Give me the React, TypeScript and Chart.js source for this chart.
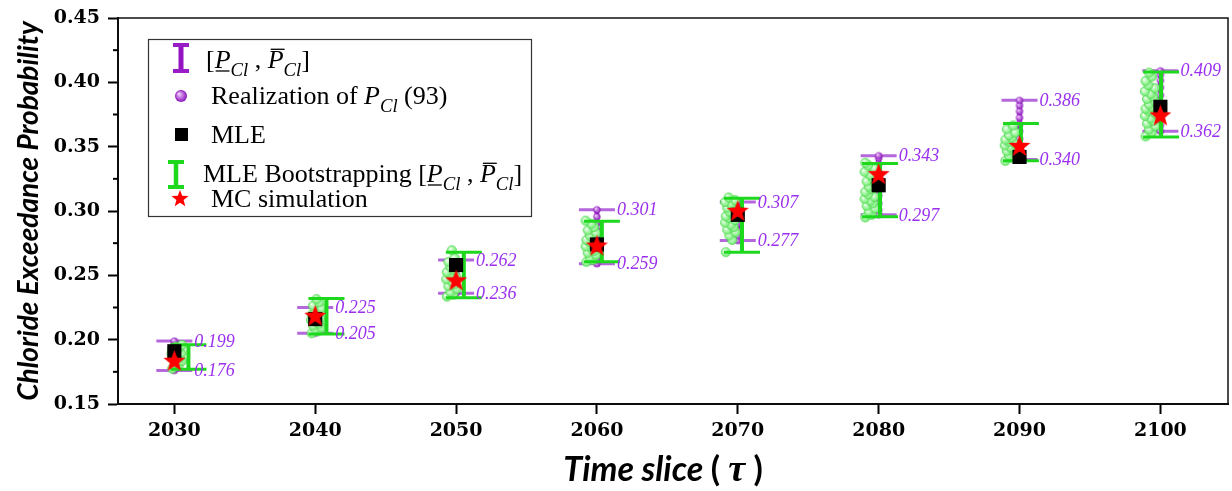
import React, { useEffect, useRef } from "react";
import { Chart, registerables } from "chart.js";
Chart.register(...registerables);

// ---------------- data ----------------
const YEARS = [2030, 2040, 2050, 2060, 2070, 2080, 2090, 2100];
const P_LOWER = [0.176, 0.205, 0.236, 0.259, 0.277, 0.297, 0.34, 0.362];
const P_UPPER = [0.199, 0.225, 0.262, 0.301, 0.307, 0.343, 0.386, 0.409];
const BOOT_LOWER = [0.177, 0.2045, 0.2325, 0.2605, 0.268, 0.2955, 0.339, 0.3575];
const BOOT_UPPER = [0.196, 0.232, 0.268, 0.292, 0.31, 0.337, 0.368, 0.408];
const BOOT_X = [2031.0, 2040.8, 2050.55, 2060.35, 2070.3, 2080.1, 2090.1, 2100.05];
const BOOT_CLOUD_X = [2030.2, 2040.1, 2049.7, 2059.6, 2069.5, 2079.4, 2089.35, 2099.3];
const MLE = [0.191, 0.216, 0.258, 0.274, 0.297, 0.32, 0.342, 0.381];
const MC = [0.184, 0.219, 0.2465, 0.2735, 0.3005, 0.329, 0.351, 0.3747];

const REAL_2030 = [0.176, 0.178, 0.1825, 0.187, 0.191, 0.1945, 0.197, 0.199];
const REAL_2040 = [0.205, 0.207, 0.2105, 0.214, 0.218, 0.2215, 0.225];
const REAL_2050 = [0.236, 0.2385, 0.242, 0.2465, 0.251, 0.2555, 0.259, 0.262];
const REAL_2060 = [0.259, 0.262, 0.267, 0.273, 0.279, 0.285, 0.2905, 0.2955, 0.301];
const REAL_2070 = [0.277, 0.2805, 0.285, 0.29, 0.2945, 0.299, 0.303, 0.307];
const REAL_2080 = [0.297, 0.3005, 0.306, 0.312, 0.318, 0.324, 0.33, 0.3365, 0.341, 0.343];
const REAL_2090 = [0.34, 0.3445, 0.35, 0.356, 0.362, 0.3675, 0.3725, 0.3775, 0.382, 0.386];
const REAL_2100 = [0.362, 0.3665, 0.372, 0.378, 0.384, 0.39, 0.396, 0.4015, 0.406, 0.409];
const REALIZATIONS = [REAL_2030, REAL_2040, REAL_2050, REAL_2060, REAL_2070, REAL_2080, REAL_2090, REAL_2100];

const BOOT_2030 = [0.1775, 0.18, 0.1815, 0.1835, 0.185, 0.186, 0.1875, 0.189, 0.1895, 0.1905, 0.192, 0.193, 0.1945, 0.196];
const BOOT_2040 = [0.205, 0.2065, 0.208, 0.2095, 0.211, 0.2125, 0.214, 0.215, 0.2165, 0.218, 0.2195, 0.221, 0.2225, 0.2245, 0.2265, 0.229, 0.2315];
const BOOT_2050 = [0.2335, 0.235, 0.237, 0.2395, 0.2415, 0.243, 0.245, 0.247, 0.249, 0.2505, 0.2525, 0.2545, 0.2565, 0.2585, 0.2605, 0.2635, 0.2695];
const BOOT_2060 = [0.2605, 0.262, 0.264, 0.266, 0.2675, 0.269, 0.271, 0.2725, 0.274, 0.276, 0.2775, 0.279, 0.281, 0.283, 0.285, 0.2875, 0.29, 0.2925];
const BOOT_2070 = [0.268, 0.2775, 0.281, 0.2835, 0.2855, 0.2875, 0.2895, 0.291, 0.293, 0.2945, 0.296, 0.298, 0.2995, 0.301, 0.3025, 0.304, 0.3055, 0.307, 0.3085, 0.3105];
const BOOT_2080 = [0.295, 0.297, 0.2995, 0.302, 0.304, 0.306, 0.308, 0.3095, 0.311, 0.313, 0.315, 0.317, 0.319, 0.321, 0.323, 0.3255, 0.328, 0.3305, 0.333, 0.3355, 0.3375];
const BOOT_2090 = [0.339, 0.3415, 0.343, 0.345, 0.3465, 0.348, 0.3495, 0.351, 0.3525, 0.354, 0.3555, 0.357, 0.359, 0.361, 0.3635, 0.3665];
const BOOT_2100 = [0.358, 0.361, 0.3635, 0.366, 0.368, 0.37, 0.372, 0.374, 0.376, 0.378, 0.3795, 0.381, 0.383, 0.385, 0.387, 0.389, 0.391, 0.393, 0.3955, 0.398, 0.401, 0.4045, 0.4075];
const BOOTSTRAP = [BOOT_2030, BOOT_2040, BOOT_2050, BOOT_2060, BOOT_2070, BOOT_2080, BOOT_2090, BOOT_2100];

const X_TICKS = [2030, 2040, 2050, 2060, 2070, 2080, 2090, 2100];
const Y_TICKS = [0.15, 0.2, 0.25, 0.3, 0.35, 0.4, 0.45];
const Y_MINOR = [0.175, 0.225, 0.275, 0.325, 0.375, 0.425];

// ---------------- styles ----------------
const JITTER = [-0.35, 0.1, -0.1, 0.35, -0.25, 0.2, 0, -0.4, 0.3, -0.15];
const PURPLE_V = "#9414c4";
const PURPLE_CAP = "rgba(172,88,216,0.9)";
const GREEN = "#1ed81e";
const LABEL_COLOR = "#9b30ef";
const SERIF = '"Liberation Serif", "Times New Roman", serif';
const SANS_BI = 'Lato, "Open Sans", sans-serif';

function makeSphere(r: number, inner: string, outer: string, edge?: string) {
  const c = document.createElement("canvas");
  const s = Math.ceil(r * 2 + 2);
  c.width = s;
  c.height = s;
  const g = c.getContext("2d")!;
  const cx = s / 2, cy = s / 2;
  const grad = g.createRadialGradient(cx - r * 0.35, cy - r * 0.35, r * 0.1, cx, cy, r);
  grad.addColorStop(0, inner);
  grad.addColorStop(1, outer);
  g.fillStyle = grad;
  g.beginPath();
  g.arc(cx, cy, r, 0, Math.PI * 2);
  g.fill();
  if (edge) {
    g.strokeStyle = edge;
    g.lineWidth = 0.8;
    g.stroke();
  }
  return c;
}

function starPath(ctx: CanvasRenderingContext2D, cx: number, cy: number, R: number) {
  const r = R * 0.42;
  ctx.beginPath();
  for (let i = 0; i < 10; i++) {
    const a = -Math.PI / 2 + (i * Math.PI) / 5;
    const rr = i % 2 === 0 ? R : r;
    const px = cx + rr * Math.cos(a), py = cy + rr * Math.sin(a);
    if (i === 0) ctx.moveTo(px, py);
    else ctx.lineTo(px, py);
  }
  ctx.closePath();
}

function makeStar(R: number, color: string) {
  const c = document.createElement("canvas");
  const s = Math.ceil(R * 2 + 2);
  c.width = s;
  c.height = s;
  const g = c.getContext("2d")!;
  starPath(g, s / 2, s / 2 + R * 0.1, R);
  g.fillStyle = color;
  g.fill();
  return c;
}

type Run = { t: string; italic?: boolean; sub?: boolean; under?: boolean; over?: boolean };

function drawRuns(ctx: CanvasRenderingContext2D, x: number, y: number, runs: Run[], size: number) {
  ctx.textBaseline = "alphabetic";
  ctx.textAlign = "left";
  ctx.fillStyle = "#000";
  ctx.strokeStyle = "#000";
  for (const r of runs) {
    const fs = r.sub ? size * 0.72 : size;
    ctx.font = `${r.italic ? "italic " : ""}${fs}px ${SERIF}`;
    const dy = r.sub ? size * 0.3 : 0;
    ctx.fillText(r.t, x, y + dy);
    const w = ctx.measureText(r.t).width;
    ctx.lineWidth = 1.3;
    if (r.under) {
      ctx.beginPath();
      ctx.moveTo(x + 1, y + 3);
      ctx.lineTo(x + w - 1, y + 3);
      ctx.stroke();
    }
    if (r.over) {
      ctx.beginPath();
      ctx.moveTo(x + 3, y - size * 0.72);
      ctx.lineTo(x + w + 1, y - size * 0.72);
      ctx.stroke();
    }
    x += w;
  }
}

function drawIBeam(ctx: CanvasRenderingContext2D, x: number, y1: number, y2: number, half: number, vColor: string, vW: number, cColor: string, cW: number) {
  ctx.save();
  ctx.lineCap = "butt";
  ctx.strokeStyle = vColor;
  ctx.lineWidth = vW;
  ctx.beginPath();
  ctx.moveTo(x, y1);
  ctx.lineTo(x, y2);
  ctx.stroke();
  ctx.strokeStyle = cColor;
  ctx.lineWidth = cW;
  ctx.beginPath();
  ctx.moveTo(x - half, y1);
  ctx.lineTo(x + half, y1);
  ctx.moveTo(x - half, y2);
  ctx.lineTo(x + half, y2);
  ctx.stroke();
  ctx.restore();
}

export default function App() {
  const ref = useRef<HTMLCanvasElement>(null);

  useEffect(() => {
    const canvas = ref.current!;
    const purpleImg = makeSphere(3.6, "#f0c8ff", "#8a12b8");
    const greenImg = makeSphere(4.6, "#f0fff0", "#6bec6b", "rgba(70,210,70,0.75)");
    const starImg = makeStar(11.5, "#ff0000");
    const legendSphere = makeSphere(6, "#f0c8ff", "#8a12b8");
    const legendStar = makeStar(9, "#ff0000");

    const realData: { x: number; y: number }[] = [];
    REALIZATIONS.forEach((arr, i) => arr.forEach((v) => realData.push({ x: YEARS[i], y: v })));
    const bootData: { x: number; y: number }[] = [];
    BOOTSTRAP.forEach((arr, i) =>
      arr.forEach((v, j) => bootData.push({ x: BOOT_CLOUD_X[i] + JITTER[j % JITTER.length], y: v }))
    );

    const overlay = {
      id: "overlay",
      beforeDatasetsDraw(chart: any) {
        const { ctx, scales } = chart;
        const xs = scales.x, ys = scales.y;
        YEARS.forEach((yr, i) => {
          drawIBeam(ctx, xs.getPixelForValue(yr), ys.getPixelForValue(P_UPPER[i]), ys.getPixelForValue(P_LOWER[i]), 18, PURPLE_V, 4.5, PURPLE_CAP, 3);
        });
      },
      afterDatasetDraw(chart: any, args: any) {
        if (args.meta && args.meta.label === "boot") {
          const { ctx, scales } = chart;
          const xs = scales.x, ys = scales.y;
          YEARS.forEach((yr, i) => {
            drawIBeam(ctx, xs.getPixelForValue(BOOT_X[i]), ys.getPixelForValue(BOOT_UPPER[i]), ys.getPixelForValue(BOOT_LOWER[i]), 18, GREEN, 4, GREEN, 3);
          });
        }
      },
      afterDatasetsDraw(chart: any) {
        const { ctx, scales } = chart;
        const xs = scales.x, ys = scales.y;
        ctx.save();
        ctx.font = `italic 18px ${SERIF}`;
        ctx.fillStyle = LABEL_COLOR;
        ctx.textAlign = "left";
        ctx.textBaseline = "middle";
        YEARS.forEach((yr, i) => {
          const px = xs.getPixelForValue(yr) + 20;
          ctx.fillText(P_UPPER[i].toFixed(3), px, ys.getPixelForValue(P_UPPER[i]) + 1);
          ctx.fillText(P_LOWER[i].toFixed(3), px, ys.getPixelForValue(P_LOWER[i]) + 1);
        });
        ctx.restore();
      },
      afterDraw(chart: any) {
        const { ctx, chartArea, scales } = chart;
        const ys = scales.y;
        ctx.save();
        // box
        ctx.strokeStyle = "#111";
        ctx.lineWidth = 1.5;
        ctx.strokeRect(chartArea.left, chartArea.top, chartArea.right - chartArea.left, chartArea.bottom - chartArea.top);
        // minor ticks
        ctx.lineWidth = 2;
        ctx.strokeStyle = "#000";
        Y_MINOR.forEach((v) => {
          const py = ys.getPixelForValue(v);
          ctx.beginPath();
          ctx.moveTo(chartArea.left - 5, py);
          ctx.lineTo(chartArea.left, py);
          ctx.stroke();
        });
        // y title
        ctx.save();
        ctx.translate(29, 211);
        ctx.rotate(-Math.PI / 2);
        ctx.font = `italic bold 28px ${SANS_BI}`;
        ctx.fillStyle = "#000";
        ctx.textAlign = "center";
        ctx.textBaseline = "middle";
        ctx.fillText("Chloride Exceedance Probability", 0, 0);
        ctx.restore();
        // x title
        {
          const parts = [
            { t: "Time slice ", f: `italic bold 34px ${SANS_BI}` },
            { t: "( ", f: `bold 34px ${SANS_BI}` },
            { t: "τ", f: `italic bold 38px ${SERIF}` },
            { t: " )", f: `bold 34px ${SANS_BI}` },
          ];
          let total = 0;
          parts.forEach((p) => {
            ctx.font = p.f;
            total += ctx.measureText(p.t).width;
          });
          let x = 663 - total / 2;
          ctx.fillStyle = "#000";
          ctx.textAlign = "left";
          ctx.textBaseline = "alphabetic";
          parts.forEach((p) => {
            ctx.font = p.f;
            ctx.fillText(p.t, x, 481);
            x += ctx.measureText(p.t).width;
          });
        }
        // legend
        ctx.fillStyle = "#fff";
        ctx.fillRect(148, 39, 383, 177);
        ctx.strokeStyle = "#333";
        ctx.lineWidth = 1.2;
        ctx.strokeRect(148.5, 39.5, 383, 177);
        drawIBeam(ctx, 181, 45, 71, 8, PURPLE_V, 5, "#9a1cc6", 4);
        ctx.drawImage(legendSphere, 181 - legendSphere.width / 2, 96 - legendSphere.height / 2);
        ctx.fillStyle = "#000";
        ctx.fillRect(175, 128, 13, 13);
        drawIBeam(ctx, 176, 162, 187, 8, GREEN, 4.5, GREEN, 4);
        ctx.drawImage(legendStar, 180 - legendStar.width / 2, 198 - legendStar.height / 2);
        const S = 26;
        drawRuns(ctx, 206, 68, [
          { t: "[" },
          { t: "P", italic: true, under: true },
          { t: "Cl", italic: true, sub: true },
          { t: " , " },
          { t: "P", italic: true, over: true },
          { t: "Cl", italic: true, sub: true },
          { t: "]" },
        ], S);
        drawRuns(ctx, 211, 104, [
          { t: "Realization of " },
          { t: "P", italic: true },
          { t: "Cl", italic: true, sub: true },
          { t: " (93)" },
        ], S);
        drawRuns(ctx, 211, 143, [{ t: "MLE" }], S);
        drawRuns(ctx, 203, 182, [
          { t: "MLE Bootstrapping [" },
          { t: "P", italic: true, under: true },
          { t: "Cl", italic: true, sub: true },
          { t: " , " },
          { t: "P", italic: true, over: true },
          { t: "Cl", italic: true, sub: true },
          { t: "]" },
        ], S);
        drawRuns(ctx, 211, 207, [{ t: "MC simulation" }], S);
        ctx.restore();
      },
    };

    const tickFont = { family: '"DejaVu Serif", serif', weight: "bold" as const, size: 19 };

    const chart = new Chart(canvas, {
      type: "scatter",
      data: {
        datasets: [
          { label: "MC", data: YEARS.map((x, i) => ({ x, y: MC[i] })), pointStyle: starImg as any, pointRadius: 6, order: 0 },
          { label: "MLE", data: YEARS.map((x, i) => ({ x, y: MLE[i] })), pointStyle: "rect", pointRadius: 10, backgroundColor: "#000", borderColor: "#000", borderWidth: 0, order: 1 },
          { label: "boot", data: bootData, pointStyle: greenImg as any, pointRadius: 4, order: 2 },
          { label: "real", data: realData, pointStyle: purpleImg as any, pointRadius: 3, order: 3 },
        ],
      },
      options: {
        responsive: false,
        animation: false,
        events: [],
        layout: { autoPadding: false, padding: { top: 18, right: 4, left: 0, bottom: 0 } },
        plugins: { legend: { display: false }, tooltip: { enabled: false } },
        scales: {
          x: {
            type: "linear",
            min: 2026,
            max: 2104.8,
            afterBuildTicks: (s: any) => {
              s.ticks = X_TICKS.map((v) => ({ value: v }));
            },
            afterFit: (s: any) => {
              s.height = 87;
              s.paddingLeft = 0;
              s.paddingRight = 0;
            },
            ticks: { callback: (v: any) => String(v), font: tickFont, color: "#000", padding: 6, maxRotation: 0, autoSkip: false },
            grid: { drawOnChartArea: false, drawTicks: true, tickLength: 10, tickWidth: 2, tickColor: "#000" },
            border: { display: true, color: "#000", width: 2 },
          },
          y: {
            type: "linear",
            min: 0.15,
            max: 0.45,
            afterBuildTicks: (s: any) => {
              s.ticks = Y_TICKS.map((v) => ({ value: v }));
            },
            afterFit: (s: any) => {
              s.width = 118;
              s.paddingTop = 0;
              s.paddingBottom = 0;
            },
            ticks: { callback: (v: any) => Number(v).toFixed(2), font: tickFont, color: "#000", padding: 8, autoSkip: false },
            grid: { drawOnChartArea: false, drawTicks: true, tickLength: 10, tickWidth: 2, tickColor: "#000" },
            border: { display: true, color: "#000", width: 2 },
          },
        },
      },
      plugins: [overlay],
    });
    return () => chart.destroy();
  }, []);

  return (
    <div style={{ position: "fixed", left: 0, top: 0, width: 1232, height: 491, background: "#fff" }}>
      <canvas ref={ref} width={1232} height={491} style={{ display: "block" }} />
    </div>
  );
}
